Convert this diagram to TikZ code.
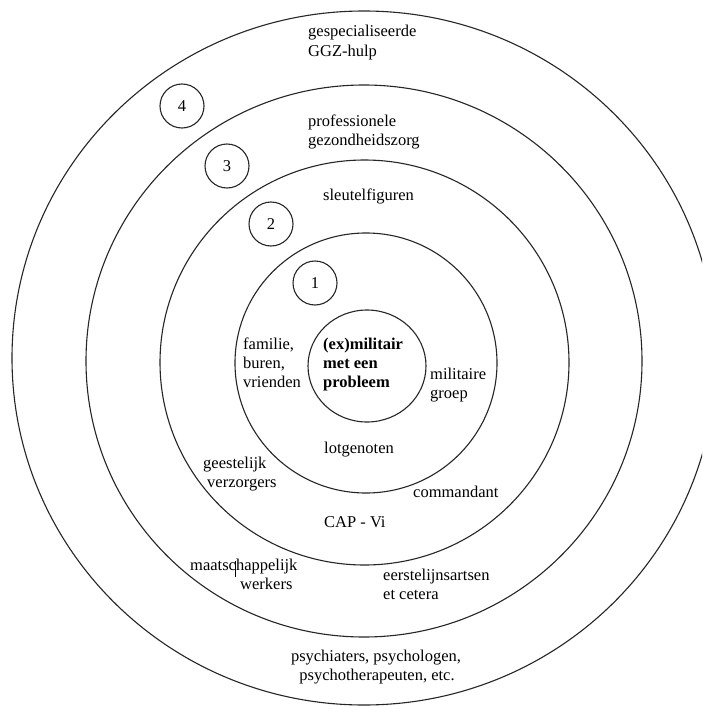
\documentclass[tikz,border=0pt]{standalone}
\usepackage{fontspec}
\setmainfont{Liberation Serif}
\begin{document}
\begin{tikzpicture}[x=1pt,y=-1pt,
  ring/.style={draw=black!85, line width=1.1pt},
  numcircle/.style={circle, draw=black!85, line width=1.1pt, minimum size=44pt, inner sep=0pt, font=\fontsize{16.5pt}{19pt}\selectfont},
  lbl/.style={inner sep=0pt, anchor=mid west, font=\fontsize{16.5pt}{19pt}\selectfont},
  clbl/.style={inner sep=0pt, anchor=mid, font=\fontsize{16.5pt}{19pt}\selectfont}]
\useasboundingbox (0,0) rectangle (702,709);
\fill[white] (0,0) rectangle (702,709);
\clip (0,0) rectangle (702,709);
% rings
\draw[ring] (364,358) ellipse [x radius=352, y radius=347];
\draw[ring] (364,361) ellipse [x radius=278, y radius=276];
\draw[ring] (364.5,362.5) ellipse [x radius=204.5, y radius=202.5];
\draw[ring] (366,363) ellipse [x radius=131, y radius=130];
\draw[ring] (367,366) ellipse [x radius=59, y radius=56];
% numbered circles
\node[numcircle] (n4) at (182,106) {4};
\node[numcircle] (n3) at (227,166) {3};
\node[numcircle] (n2) at (271,224) {2};
\node[numcircle] (n1) at (315,283) {1};
% labels
\node[lbl] (g1) at (308,34) {gespecialiseerde};
\node[lbl] (g2) at (308,54) {GGZ-hulp};
\node[lbl] (p1) at (308,124) {professionele};
\node[lbl] (p2) at (308,143) {gezondheidszorg};
\node[lbl] (s1) at (323,198) {sleutelfiguren};
\node[lbl] (c1) at (323,347) {\textbf{(ex)militair}};
\node[lbl] (c2) at (323,366) {\textbf{met een}};
\node[lbl] (c3) at (323,385) {\textbf{probleem}};
\node[lbl] (f1) at (243,347) {familie,};
\node[lbl] (f2) at (243,366) {buren,};
\node[lbl] (f3) at (243,385) {vrienden};
\node[lbl] (m1) at (430,377) {militaire};
\node[lbl] (m2) at (430,396) {groep};
\node[lbl] (l1) at (324,451) {lotgenoten};
\node[lbl] (ge1) at (203,466) {geestelijk};
\node[lbl] (ge2) at (207,485) {verzorgers};
\node[lbl] (co) at (413,495) {commandant};
\node[lbl] (cap) at (324,525) {CAP - Vi};
\node[lbl] (mw1) at (190,568) {maatschappelijk};
\node[lbl] (mw2) at (240,587) {werkers};
\node[lbl] (e1) at (383,578) {eerstelijnsartsen};
\node[lbl] (e2) at (383,597) {et cetera};
\node[clbl] (ps1) at (376,659) {psychiaters, psychologen,};
\node[clbl] (ps2) at (377,678) {psychotherapeuten, etc.};
% text cursor mark
\coordinate (cur1) at (235.5,561);
\coordinate (cur2) at (235.5,577);
\draw[line width=0.9pt] (cur1) -- (cur2);
\end{tikzpicture}
\end{document}
